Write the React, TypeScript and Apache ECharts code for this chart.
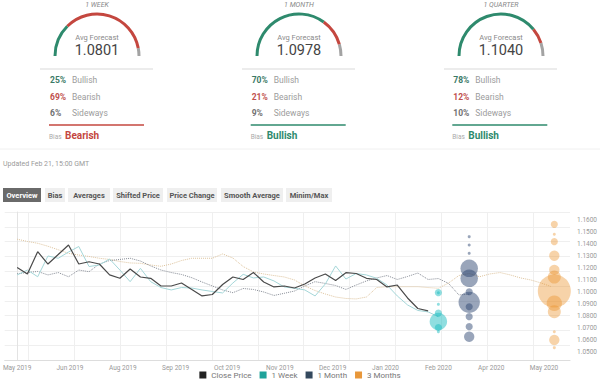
import React, { useEffect, useRef } from "react";
import * as echarts from "echarts";

// ---------- summary widgets ----------
const horizons = ["1 WEEK", "1 MONTH", "1 QUARTER"];
const avgForecast = [1.0801, 1.0978, 1.104];
const bullishPct = [25, 70, 78];
const bearishPct = [69, 21, 12];
const sidewaysPct = [6, 9, 10];
const biasLabels = ["Bearish", "Bullish", "Bullish"];
const rowLabels = ["Bullish", "Bearish", "Sideways"];
const updatedText = "Updated Feb 21, 15:00 GMT";
const tabLabels = ["Overview", "Bias", "Averages", "Shifted Price", "Price Change", "Smooth Average", "Minim/Max"];

// ---------- chart data ----------
const weeks = [
  "2019-05-17", "2019-05-24", "2019-05-31", "2019-06-07", "2019-06-14", "2019-06-21", "2019-06-28",
  "2019-07-05", "2019-07-12", "2019-07-19", "2019-07-26", "2019-08-02", "2019-08-09", "2019-08-16",
  "2019-08-23", "2019-08-30", "2019-09-06", "2019-09-13", "2019-09-20", "2019-09-27", "2019-10-04",
  "2019-10-11", "2019-10-18", "2019-10-25", "2019-11-01", "2019-11-08", "2019-11-15", "2019-11-22",
  "2019-11-29", "2019-12-06", "2019-12-13", "2019-12-20", "2019-12-27", "2020-01-03", "2020-01-10",
  "2020-01-17", "2020-01-24", "2020-01-31", "2020-02-07", "2020-02-14", "2020-02-21", "2020-02-28",
  "2020-03-06", "2020-03-13", "2020-03-20", "2020-03-27", "2020-04-03", "2020-04-10", "2020-04-17",
  "2020-04-24", "2020-05-01", "2020-05-08", "2020-05-15",
];
const closePrice = [
  1.12, 1.1146, 1.1332, 1.1229, 1.1308, 1.1388, 1.1229, 1.1248, 1.1229, 1.1138,
  1.111, 1.1188, 1.1121, 1.111, 1.1046, 1.1046, 1.1071, 1.1017, 1.0963, 1.0975,
  1.1058, 1.1121, 1.11, 1.1158, 1.1079, 1.1038, 1.1046, 1.1029, 1.1063, 1.1113,
  1.1146, 1.1092, 1.1157, 1.115, 1.111, 1.11, 1.1038, 1.1054, 1.0946, 1.0858, 1.0838,
];
const week1Avg = [
  1.1138, 1.1179, 1.1123, 1.1296, 1.1277, 1.1329, 1.1375, 1.1208, 1.1221, 1.1271,
  1.1179, 1.1082, 1.1193, 1.1082, 1.1033, 1.1013, 1.1033, 1.1029, 1.1013, 1.1,
  1.0988, 1.1071, 1.1143, 1.1113, 1.1121, 1.1088, 1.1038, 1.1027, 1.1013, 1.0963,
  1.1063, 1.1213, 1.1104, 1.115, 1.1138, 1.111, 1.1054, 1.0963, 1.0888, 1.0842,
  1.083, 1.079,
];
const month1Avg = [
  1.1148, 1.1158, 1.1167, 1.1138, 1.1158, 1.1123, 1.1179, 1.1165, 1.1229, 1.1258,
  1.1267, 1.1277, 1.1254, 1.1213, 1.1179, 1.1158, 1.1142, 1.1115, 1.1079, 1.1046,
  1.1013, 1.099, 1.1025, 1.1017, 1.0996, 1.0967, 1.0985, 1.1004, 1.1046, 1.1082,
  1.1067, 1.105, 1.1017, 1.1054, 1.1088, 1.1113, 1.1133, 1.11, 1.1125, 1.1154,
  1.11, 1.1108, 1.1067, 1.0971, 1.0978,
];
const month3Avg = [
  1.1436, 1.1417, 1.1402, 1.1377, 1.1348, 1.1318, 1.1304, 1.1292, 1.1277, 1.1267,
  1.125, 1.1238, 1.1235, 1.1221, 1.121, 1.1229, 1.1258, 1.1277, 1.1277, 1.1277,
  1.1313, 1.1279, 1.1208, 1.1163, 1.1146, 1.1133, 1.1121, 1.1096, 1.1046, 1.1008,
  1.0979, 1.0954, 1.0942, 1.0938, 1.0954, 1.1033, 1.104, 1.104, 1.104, 1.104,
  1.1033, 1.1027, 1.1071, 1.1133, 1.115, 1.1123, 1.1146, 1.1158, 1.1138, 1.1113,
  1.1096, 1.1071, 1.104,
];

// forecast distributions (value, number of forecasters)
const week1Date = "2020-02-28";
const week1Values = [1.099, 1.099, 1.0893, 1.082, 1.075, 1.07, 1.0665];
const week1Counts = [2, 1, 1, 2, 6, 2, 1];
const month1Date = "2020-03-20";
const month1Values = [1.1457, 1.1388, 1.1318, 1.1193, 1.111, 1.0998, 1.091, 1.0873, 1.079, 1.0707, 1.0623];
const month1Counts = [1, 1, 1, 6, 6, 2, 8, 2, 2, 2, 3];
const month3Date = "2020-05-17";
const month3Values = [1.156, 1.1477, 1.1415, 1.1298, 1.118, 1.112, 1.1004, 1.0902, 1.0832, 1.0665, 1.0596, 1.0532];
const month3Counts = [2, 1, 2, 3, 3, 4, 16, 5, 4, 1, 3, 1];

const xTickDates = [
  "2019-05-17", "2019-06-22", "2019-07-28", "2019-09-02", "2019-10-07", "2019-11-12",
  "2019-12-18", "2020-01-23", "2020-02-28", "2020-04-04", "2020-05-10",
];
const xTickLabels = [
  "May 2019", "Jun 2019", "Aug 2019", "Sep 2019", "Oct 2019", "Nov 2019",
  "Dec 2019", "Jan 2020", "Feb 2020", "Apr 2020", "May 2020",
];
const yTickValues = [1.05, 1.06, 1.07, 1.08, 1.09, 1.1, 1.11, 1.12, 1.13, 1.14, 1.15, 1.16];
const legendNames = ["Close Price", "1 Week", "1 Month", "3 Months"];

// ---------- layout / style ----------
const FONT = 'Roboto, "Noto Sans", sans-serif';
const GREEN = "#2e8a6d";
const RED = "#c4473f";
const GREY_ARC = "#a3a3a3";
const legendColors = ["#222222", "#1fa39b", "#34495e", "#e8973a"];
const X_MIN = -8.5;
const X_MAX = 376.7;
const Y_MIN = 1.042917;
const Y_MAX = 1.16625;
const xGridDays = [7.6, 38.9, 70.1, 101.4, 132.7, 164, 195.2, 226.5, 257.8, 289, 320.3, 351.6];
const yGridValues = Array.from({ length: 10 }, (_, k) => Y_MIN + ((k + 1) * (Y_MAX - Y_MIN)) / 10);
const gaugeX = [97, 299, 501];
const pctX = [50, 251.7, 453.3];
const rowY = [80, 96.7, 113.3];
const tabX = [3, 45, 68, 113, 167, 221, 286];
const tabW = [38, 20, 42, 50, 50, 62, 46];

const dayOf = (s: string) => (Date.parse(s) - Date.parse("2019-05-17")) / 86400000;
const bubbleSize = (c: number) => 3 + 10 * (Math.sqrt(c) - 1);

function txt(x: number, y: number, text: string, opts: any = {}) {
  const align = opts.align || "left";
  return {
    type: "text",
    x,
    y,
    silent: true,
    style: {
      text,
      fill: opts.fill || "#999",
      fontSize: opts.fontSize || 8,
      fontWeight: opts.fontWeight || "normal",
      fontStyle: opts.fontStyle || "normal",
      fontFamily: FONT,
      align,
      textAlign: align,
      verticalAlign: "middle",
      textVerticalAlign: "middle",
    },
  };
}
function hline(x1: number, x2: number, y: number, stroke: string, lineWidth = 1) {
  return { type: "line", silent: true, shape: { x1, y1: y, x2, y2: y }, style: { stroke, lineWidth } };
}

export default function App() {
  const ref = useRef<HTMLDivElement>(null);
  useEffect(() => {
    if (!ref.current) return;
    const chart = echarts.init(ref.current, null, { renderer: "svg" });

    const graphics: any[] = [];
    horizons.forEach((h, k) => {
      const cx = gaugeX[k];
      const bx = pctX[k];
      graphics.push(txt(cx, 4.5, h, { align: "center", fontSize: 7, fontStyle: "italic", fill: "#888" }));
      graphics.push(hline(cx - 57, cx + 56, 69, "#e6e6e6", 1.5));
      const pcts = [bullishPct[k], bearishPct[k], sidewaysPct[k]];
      const pctColors = ["#3b7a66", "#c0504d", "#707070"];
      pcts.forEach((p, r) => {
        graphics.push(txt(bx, rowY[r], p + "%", { fontSize: 8.5, fontWeight: "bold", fill: pctColors[r] }));
        graphics.push(txt(bx + 22, rowY[r], rowLabels[r], { fontSize: 8.5, fill: "#9c9c9c" }));
      });
      const biasColor = biasLabels[k] === "Bearish" ? RED : GREEN;
      graphics.push(hline(bx - 1, bx + 94, 125, biasColor, 1.5));
      graphics.push(txt(bx - 1, 136.5, "Bias", { fontSize: 6.5, fill: "#aaa" }));
      graphics.push(txt(bx + 15, 135.5, biasLabels[k], { fontSize: 10, fontWeight: "bold", fill: biasColor }));
    });
    graphics.push(hline(0, 600, 149, "#f0f0f0", 1));
    graphics.push(txt(3, 163.5, updatedText, { fontSize: 7, fill: "#9a9a9a" }));
    tabLabels.forEach((t, i) => {
      const active = i === 0;
      graphics.push({
        type: "rect",
        silent: true,
        shape: { x: tabX[i], y: 188, width: tabW[i], height: 14 },
        style: { fill: active ? "#6a6a6a" : "#efefef" },
      });
      graphics.push(
        txt(tabX[i] + tabW[i] / 2, 195, t, {
          align: "center",
          fontSize: 7.5,
          fontWeight: "bold",
          fill: active ? "#ffffff" : "#555555",
        })
      );
    });

    const gauges = horizons.map((h, k) => ({
      type: "gauge",
      center: [gaugeX[k], 56],
      radius: 43.5,
      startAngle: 180,
      endAngle: 0,
      min: 0,
      max: 100,
      silent: true,
      axisLine: {
        lineStyle: {
          width: 3,
          color: [
            [bullishPct[k] / 100, GREEN],
            [(bullishPct[k] + bearishPct[k]) / 100, RED],
            [1, GREY_ARC],
          ],
        },
      },
      pointer: { show: false },
      progress: { show: false },
      anchor: { show: false },
      axisTick: { show: false },
      splitLine: { show: false },
      axisLabel: { show: false },
      title: { offsetCenter: [0, -19], fontSize: 7.5, color: "#8a8a8a", fontFamily: FONT },
      detail: {
        offsetCenter: [0, -6],
        fontSize: 14.5,
        fontWeight: "normal",
        color: "#444",
        fontFamily: FONT,
        formatter: (v: number) => v.toFixed(4),
      },
      data: [{ value: avgForecast[k], name: "Avg Forecast" }],
    }));

    const lineData = (vals: number[]) => vals.map((v, i) => [dayOf(weeks[i]), v]);
    const bubbleData = (date: string, vals: number[], counts: number[]) =>
      vals.map((v, i) => [dayOf(date), v, counts[i]]);
    const xTickDays = xTickDates.map(dayOf);

    const option: any = {
      animation: false,
      textStyle: { fontFamily: FONT },
      grid: { left: 0, right: 26, top: 212, bottom: 23 },
      legend: {
        top: 369,
        left: "center",
        icon: "rect",
        itemWidth: 7,
        itemHeight: 7,
        itemGap: 8,
        padding: 2,
        selectedMode: false,
        textStyle: { fontSize: 8, color: "#777", fontFamily: FONT },
        data: legendNames.map((n, i) => ({ name: n, itemStyle: { color: legendColors[i] } })),
      },
      xAxis: {
        type: "value",
        min: X_MIN,
        max: X_MAX,
        axisLine: { show: true, lineStyle: { color: "#dddddd" } },
        axisTick: { show: false, customValues: xGridDays },
        splitLine: { show: true, lineStyle: { color: "#efefef", width: 1 } },
        axisLabel: {
          customValues: xTickDays,
          fontSize: 6.5,
          color: "#999",
          margin: 4,
          fontFamily: FONT,
          alignMinLabel: "center",
          alignMaxLabel: "center",
          formatter: (v: number) => {
            const i = xTickDays.findIndex((d) => Math.abs(d - v) < 1e-6);
            return i >= 0 ? xTickLabels[i] : "";
          },
        },
      },
      yAxis: {
        type: "value",
        position: "right",
        min: Y_MIN,
        max: Y_MAX,
        axisLine: { show: true, lineStyle: { color: "#e3e3e3" } },
        axisTick: { show: false, customValues: yGridValues },
        splitLine: { show: true, lineStyle: { color: "#efefef", width: 1 } },
        axisLabel: {
          customValues: yTickValues,
          fontSize: 6.5,
          color: "#999",
          margin: 7,
          fontFamily: FONT,
          formatter: (v: number) => v.toFixed(4),
        },
      },
      graphic: { elements: graphics },
      series: [
        ...gauges,
        {
          name: "3 Months",
          type: "line",
          data: lineData(month3Avg),
          showSymbol: false,
          lineStyle: { color: "#ddc39d", width: 1, type: "dotted" },
          itemStyle: { color: "#ddc39d" },
          z: 2,
        },
        {
          name: "1 Month",
          type: "line",
          data: lineData(month1Avg),
          showSymbol: false,
          lineStyle: { color: "#868b95", width: 1, type: "dotted" },
          itemStyle: { color: "#868b95" },
          z: 2,
        },
        {
          name: "1 Week",
          type: "line",
          data: lineData(week1Avg),
          showSymbol: false,
          lineStyle: { color: "#a4d6d8", width: 1 },
          itemStyle: { color: "#a4d6d8" },
          z: 2,
        },
        {
          name: "Close Price",
          type: "line",
          data: lineData(closePrice),
          showSymbol: false,
          lineStyle: { color: "#4a4a4a", width: 1.2 },
          itemStyle: { color: "#4a4a4a" },
          z: 3,
        },
        {
          name: "1 Week",
          type: "scatter",
          data: bubbleData(week1Date, week1Values, week1Counts),
          symbolSize: (v: number[]) => bubbleSize(v[2]),
          itemStyle: { color: "rgba(20,185,190,0.6)" },
          z: 4,
        },
        {
          name: "1 Month",
          type: "scatter",
          data: bubbleData(month1Date, month1Values, month1Counts),
          symbolSize: (v: number[]) => bubbleSize(v[2]),
          itemStyle: { color: "rgba(42,67,110,0.6)" },
          z: 4,
        },
        {
          name: "3 Months",
          type: "scatter",
          data: bubbleData(month3Date, month3Values, month3Counts),
          symbolSize: (v: number[]) => bubbleSize(v[2]),
          itemStyle: { color: "rgba(236,145,40,0.5)" },
          z: 4,
        },
      ],
    };
    chart.setOption(option);
    return () => chart.dispose();
  }, []);
  return (
    <div
      ref={ref}
      style={{ position: "absolute", left: 0, top: 0, width: 600, height: 383, background: "#fff" }}
    />
  );
}
